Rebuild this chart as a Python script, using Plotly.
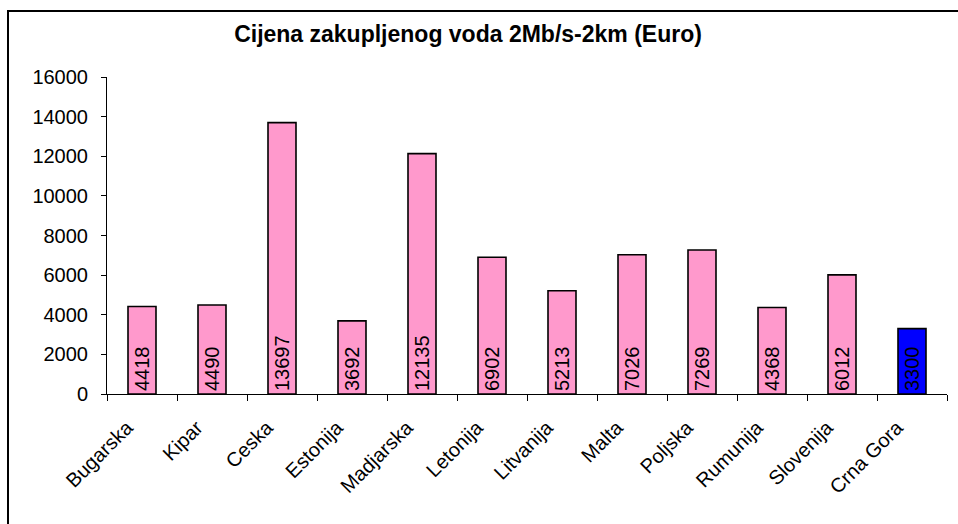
import plotly.graph_objects as go

countries = ["Bugarska", "Kipar", "Ceska", "Estonija", "Madjarska", "Letonija",
             "Litvanija", "Malta", "Poljska", "Rumunija", "Slovenija", "Crna Gora"]
prices = [4418, 4490, 13697, 3692, 12135, 6902, 5213, 7026, 7269, 4368, 6012, 3300]
bar_colors = ["#FF99CC"] * 11 + ["#0000FF"]
y_ticks = [0, 2000, 4000, 6000, 8000, 10000, 12000, 14000, 16000]

W, H = 958, 524
L, R, T, B = 107, 11, 77, 130
pw, ph = W - L - R, H - T - B


def px_x(p):
    return (p - L) / pw


def px_y(p):
    return (T + ph - p) / ph


fig = go.Figure(go.Bar(
    x=countries, y=prices,
    marker=dict(color=bar_colors, line=dict(color="black", width=1.6)),
    width=0.4,
    text=[str(v) for v in prices],
    textposition="inside", insidetextanchor="start", textangle=-90,
    constraintext="none",
    textfont=dict(family="Liberation Sans, Arial", size=20, color="black"),
    hoverinfo="x+y",
))

fig.update_layout(
    width=W, height=H,
    margin=dict(l=L, r=R, t=T, b=B, pad=0, autoexpand=False),
    paper_bgcolor="white", plot_bgcolor="white",
    font=dict(family="Liberation Sans, Arial", size=20, color="black"),
    showlegend=False,
    title=dict(text="<b>Cijena zakupljenog voda 2Mb/s-2km (Euro)</b>",
               x=px_x(468), xref="paper", xanchor="center",
               y=1 - 34 / H, yref="container", yanchor="middle",
               automargin=False,
               font=dict(family="Liberation Sans, Arial", size=23, color="black")),
    xaxis=dict(showline=True, linecolor="black", linewidth=1, automargin=False,
               ticks="outside", tickson="boundaries", ticklen=6, tickcolor="black",
               tickangle=-45, showgrid=False, zeroline=False,
               ticklabelstandoff=13, ticklabelshift=-15,
               tickfont=dict(size=20)),
    yaxis=dict(range=[0, 16000], tickvals=y_ticks, ticktext=[str(v) for v in y_ticks],
               showline=True, linecolor="black", automargin=False,
               linewidth=1, ticks="outside", ticklen=5, tickcolor="black",
               showgrid=False, zeroline=False, ticklabelstandoff=9,
               tickfont=dict(size=20)),
)

# outer chart border: only top and left edges are visible in the window
fig.add_shape(type="line", xref="paper", yref="paper",
              x0=px_x(7), x1=px_x(W + 60), y0=px_y(11), y1=px_y(11),
              line=dict(color="black", width=2), layer="below")
fig.add_shape(type="line", xref="paper", yref="paper",
              x0=px_x(8), x1=px_x(8), y0=px_y(10), y1=px_y(H + 60),
              line=dict(color="black", width=2), layer="below")

fig.write_html("out.html", config={"displayModeBar": False},
               post_script="document.body.style.margin='0';document.body.style.overflow='hidden';")
